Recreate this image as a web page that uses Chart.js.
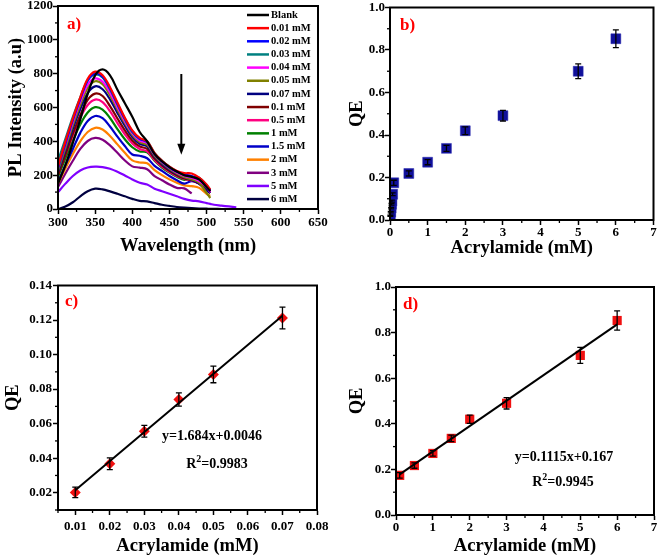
<!DOCTYPE html>
<html>
<head>
<meta charset="utf-8">
<script src="https://cdn.jsdelivr.net/npm/chart.js@4.4.0/dist/chart.umd.min.js"></script>
<style>
  body { margin: 0; background: #fff; width: 661px; height: 557px; position: relative; overflow: hidden; }
  .panel { position: absolute; }
</style>
</head>
<body>
<div class="panel" style="left:0;top:0"><canvas id="chartA" width="330" height="280"></canvas></div>
<div class="panel" style="left:330px;top:0"><canvas id="chartB" width="331" height="280"></canvas></div>
<div class="panel" style="left:0;top:280px"><canvas id="chartC" width="330" height="277"></canvas></div>
<div class="panel" style="left:330px;top:280px"><canvas id="chartD" width="331" height="277"></canvas></div>

<script>
// ---- panel a: PL spectra ----
const wavelength = [300, 310, 320, 330, 340, 350, 360, 370, 380, 390, 400, 410, 420, 430, 440, 450, 460, 470, 480, 490, 500, 505, 510, 520, 530, 540];
const concLabels = ["Blank", "0.01 mM", "0.02 mM", "0.03 mM", "0.04 mM", "0.05 mM", "0.07 mM", "0.1 mM", "0.5 mM", "1 mM", "1.5 mM", "2 mM", "3 mM", "5 mM", "6 mM"];
const lineColors = ["#000000", "#ff0000", "#0000ff", "#008080", "#ff00ff", "#808000", "#000080", "#800000", "#ff0080", "#008000", "#0000c8", "#ff8000", "#800080", "#8000ff", "#000040"];

const plBlank = [150, 260, 390, 530, 680, 790, 825, 790, 705, 625, 545, 455, 400, 325, 282, 248, 222, 200, 190, 175, 130, 105];
const pl001 = [250, 400, 535, 660, 770, 812, 790, 720, 630, 540, 465, 420, 400, 330, 285, 250, 225, 212, 210, 185, 145, 115];
const pl002 = [240, 385, 525, 650, 760, 802, 782, 712, 622, 535, 460, 415, 395, 325, 280, 245, 220, 205, 195, 175, 135, 110];
const pl003 = [285, 415, 545, 660, 760, 795, 778, 708, 618, 530, 455, 415, 400, 330, 285, 250, 222, 200, 190, 185, 140, 112];
const pl004 = [250, 380, 515, 635, 735, 772, 752, 688, 602, 518, 448, 405, 390, 322, 278, 243, 215, 195, 185, 165, 130, 100];
const pl005 = [230, 360, 495, 615, 715, 755, 738, 672, 588, 508, 438, 395, 380, 315, 272, 238, 210, 188, 175, 155, 95, 65];
const pl007 = [220, 345, 475, 590, 685, 725, 708, 648, 568, 492, 425, 385, 370, 308, 265, 232, 205, 185, 172, 150, 110, 95];
const pl01 = [200, 320, 445, 555, 645, 682, 668, 608, 535, 465, 405, 370, 355, 298, 258, 225, 200, 180, 170, 150, 110, 95];
const pl05 = [210, 320, 435, 540, 615, 647, 632, 578, 508, 442, 388, 355, 340, 290, 250, 220, 195, 178, 168, 150, 112, 98];
const pl1 = [190, 300, 405, 500, 570, 602, 588, 538, 472, 412, 365, 340, 335, 285, 245, 215, 190, 172, 185, 165, 120, 105];
const pl15 = [160, 260, 355, 450, 520, 550, 537, 488, 428, 372, 322, 315, 300, 255, 225, 195, 170, 150, 165, 150, 115, 100];
const pl2 = [150, 240, 325, 400, 455, 480, 470, 432, 382, 332, 287, 275, 270, 230, 200, 175, 155, 140, 135, 125, 90, 78];
const pl3 = [130, 210, 285, 355, 402, 420, 410, 376, 332, 287, 252, 245, 235, 195, 170, 145, 125, 122, 92];
const pl5 = [100, 150, 195, 228, 245, 250, 248, 238, 220, 198, 175, 155, 145, 120, 105, 90, 75, 60, 50, 45, 35, 30, 25, 20, 15, 10];
const pl6 = [0, 15, 40, 75, 105, 120, 116, 104, 90, 75, 60, 48, 45, 35, 25, 18, 12, 8, 5, 3, 2, 1, 1, 0];
const plSeries = [plBlank, pl001, pl002, pl003, pl004, pl005, pl007, pl01, pl05, pl1, pl15, pl2, pl3, pl5, pl6];

const ticksAx = [300, 350, 400, 450, 500, 550, 600, 650];
const ticksAy = [0, 200, 400, 600, 800, 1000, 1200];

// arrow in panel a (data units)
const arrowAt = 466, arrowFrom = 798, arrowTo = 320;

// ---- panels b, c, d: quenching efficiency ----
const conc = [0.01, 0.02, 0.03, 0.04, 0.05, 0.07, 0.1, 0.5, 1, 1.5, 2, 3, 5, 6];
const qe = [0.020, 0.037, 0.056, 0.074, 0.089, 0.121, 0.175, 0.219, 0.272, 0.337, 0.420, 0.491, 0.700, 0.853];
const qeErr = [0.003, 0.0034, 0.0034, 0.0038, 0.0048, 0.0063, 0.012, 0.012, 0.012, 0.014, 0.018, 0.025, 0.035, 0.042];

const lowConc = [0.01, 0.02, 0.03, 0.04, 0.05, 0.07];
const lowQE = [0.0202, 0.0368, 0.0556, 0.0740, 0.0885, 0.1212];
const lowErr = [0.0030, 0.0034, 0.0034, 0.0038, 0.0048, 0.0063];
const fitCx = [0.01, 0.07];
const fitCy = [0.0214, 0.1225];

const highConc = [0.1, 0.5, 1, 1.5, 2, 3, 5, 6];
const highQE = [0.174, 0.217, 0.270, 0.336, 0.420, 0.490, 0.700, 0.853];
const highErr = [0.012, 0.012, 0.012, 0.014, 0.018, 0.025, 0.035, 0.042];
const fitDx = [0.1, 6];
const fitDy = [0.178, 0.836];

const ticksBx = [0, 1, 2, 3, 4, 5, 6, 7];
const ticksBy = [0, 0.2, 0.4, 0.6, 0.8, 1.0];
const ticksCx = [0.01, 0.02, 0.03, 0.04, 0.05, 0.06, 0.07, 0.08];
const ticksCy = [0.02, 0.04, 0.06, 0.08, 0.10, 0.12, 0.14];

const FONT = '"Liberation Serif", "Times New Roman", serif';
Chart.defaults.font.family = FONT;
Chart.defaults.font.weight = "bold";
Chart.defaults.color = "#000";

const pts = (xs, ys) => ys.map((y, i) => ({ x: xs[i], y: y }));

// Axis with fixed box size so the plot areas line up with the figure
function axis(pos, min, max, ticks, fmt, title, size, titlePad, tickPad) {
  const horiz = pos === "bottom";
  return {
    type: "linear", position: pos, min: min, max: max,
    afterBuildTicks: s => { s.ticks = ticks.map(v => ({ value: v })); },
    afterFit: s => {
      if (horiz) { s.height = size; s.paddingLeft = 0; s.paddingRight = 0; }
      else { s.width = size; s.paddingTop = 0; s.paddingBottom = 0; }
    },
    grid: { drawOnChartArea: false, tickLength: 5, tickWidth: 1.5, tickColor: "#000" },
    border: { color: "#000", width: 2 },
    ticks: {
      color: "#000", padding: tickPad, autoSkip: false, maxRotation: 0,
      font: { family: FONT, size: 13, weight: "bold" },
      callback: v => fmt(v)
    },
    title: {
      display: true, text: title, color: "#000",
      font: { family: FONT, size: 18.5, weight: "bold" },
      padding: horiz ? { top: 0, bottom: titlePad } : { top: titlePad, bottom: 0 }
    }
  };
}

function minorTicks(ctx, scale, horiz, a) {
  const vals = scale.ticks.map(t => t.value);
  const step = vals[1] - vals[0];
  for (let v = vals[0] - step / 2; v <= scale.max + 1e-9; v += step) {
    if (v < scale.min - 1e-9) continue;
    const p = scale.getPixelForValue(v);
    ctx.beginPath();
    if (horiz) { ctx.moveTo(p, a.bottom); ctx.lineTo(p, a.bottom + 3); }
    else { ctx.moveTo(a.left, p); ctx.lineTo(a.left - 3, p); }
    ctx.stroke();
  }
}

// text like "R2=0.9983" with a raised 2
function drawR2(ctx, cx, cy, value) {
  const big = "bold 14px " + FONT, small = "bold 10px " + FONT;
  ctx.font = big; const wR = ctx.measureText("R").width; const wV = ctx.measureText("=" + value).width;
  ctx.font = small; const w2 = ctx.measureText("2").width;
  let x = cx - (wR + w2 + wV) / 2;
  ctx.textAlign = "left";
  ctx.font = big; ctx.fillText("R", x, cy); x += wR;
  ctx.font = small; ctx.fillText("2", x, cy - 5); x += w2;
  ctx.font = big; ctx.fillText("=" + value, x, cy);
}

function makeDecor(label, dx, dy, eq) {
  return {
    id: "decor",
    afterDatasetsDraw(chart) {
      const ctx = chart.ctx, xs = chart.scales.x, ys = chart.scales.y;
      ctx.save();
      ctx.strokeStyle = "#000"; ctx.lineWidth = 1.3;
      chart.data.datasets.forEach(ds => {
        if (!ds.errors) return;
        ds.data.forEach((p, j) => {
          const e = ds.errors[j];
          const px = xs.getPixelForValue(p.x);
          const y1 = ys.getPixelForValue(p.y + e), y2 = ys.getPixelForValue(p.y - e);
          ctx.beginPath();
          ctx.moveTo(px, y1); ctx.lineTo(px, y2);
          ctx.moveTo(px - 3, y1); ctx.lineTo(px + 3, y1);
          ctx.moveTo(px - 3, y2); ctx.lineTo(px + 3, y2);
          ctx.stroke();
        });
      });
      ctx.restore();
    },
    afterDraw(chart) {
      const ctx = chart.ctx, a = chart.chartArea;
      ctx.save();
      ctx.strokeStyle = "#000"; ctx.lineWidth = 2;
      ctx.strokeRect(a.left, a.top, a.right - a.left, a.bottom - a.top);
      ctx.lineWidth = 1.3;
      minorTicks(ctx, chart.scales.x, true, a);
      minorTicks(ctx, chart.scales.y, false, a);
      ctx.fillStyle = "#ff0000"; ctx.font = "bold 17px " + FONT;
      ctx.textAlign = "left"; ctx.textBaseline = "middle";
      ctx.fillText(label, a.left + dx, a.top + dy);
      if (eq) {
        ctx.fillStyle = "#000"; ctx.font = "bold 14px " + FONT; ctx.textAlign = "center";
        ctx.fillText(eq.text, eq.x, eq.y);
        drawR2(ctx, eq.rx, eq.ry, eq.r2);
      }
      ctx.restore();
    }
  };
}

const legendA = {
  id: "legendA",
  afterDraw(chart) {
    const ctx = chart.ctx;
    ctx.save();
    ctx.font = "bold 10.5px " + FONT; ctx.textAlign = "left"; ctx.textBaseline = "middle";
    chart.data.datasets.forEach((ds, i) => {
      const y = 15 + i * 13.15;
      ctx.strokeStyle = ds.borderColor; ctx.lineWidth = 2.5;
      ctx.beginPath(); ctx.moveTo(247, y); ctx.lineTo(269, y); ctx.stroke();
      ctx.fillStyle = "#000"; ctx.fillText(ds.label, 271, y);
    });
    ctx.restore();
  }
};

const arrowA = {
  id: "arrowA",
  afterDraw(chart) {
    const ctx = chart.ctx, xs = chart.scales.x, ys = chart.scales.y;
    const x = xs.getPixelForValue(arrowAt), y0 = ys.getPixelForValue(arrowFrom), y1 = ys.getPixelForValue(arrowTo);
    ctx.save();
    ctx.strokeStyle = "#000"; ctx.fillStyle = "#000"; ctx.lineWidth = 2;
    ctx.beginPath(); ctx.moveTo(x, y0); ctx.lineTo(x, y1 - 8); ctx.stroke();
    ctx.beginPath(); ctx.moveTo(x - 4, y1 - 11); ctx.lineTo(x + 4, y1 - 11); ctx.lineTo(x, y1); ctx.closePath(); ctx.fill();
    ctx.restore();
  }
};

const base = {
  responsive: false, animation: false, devicePixelRatio: 1,
  plugins: { legend: { display: false }, tooltip: { enabled: false } }
};

// a) spectra
new Chart(document.getElementById("chartA"), {
  type: "line",
  data: {
    datasets: plSeries.map((vals, i) => ({
      label: concLabels[i],
      data: vals.map((v, j) => ({ x: wavelength[j], y: v })),
      borderColor: lineColors[i], borderWidth: 2.2, pointRadius: 0, tension: 0.35, fill: false
    }))
  },
  options: Object.assign({}, base, {
    layout: { padding: { top: 6, right: 12, left: 0, bottom: 0 } },
    scales: {
      x: axis("bottom", 300, 650, ticksAx, v => String(v), "Wavelength (nm)", 71, 23, 1),
      y: axis("left", 0, 1200, ticksAy, v => String(v), "PL Intensity (a.u)", 58, 5, 0)
    }
  }),
  plugins: [makeDecor("a)", 9, 19, null), legendA, arrowA]
});

// b) QE vs concentration
new Chart(document.getElementById("chartB"), {
  type: "scatter",
  data: {
    datasets: [{
      data: pts(conc, qe), errors: qeErr,
      pointStyle: "rect", pointRadius: 7, backgroundColor: "#10109a", borderColor: "#2a2ab0", borderWidth: 0.5
    }]
  },
  options: Object.assign({}, base, {
    layout: { padding: { top: 7, right: 6, left: 0, bottom: 0 } },
    scales: {
      x: axis("bottom", 0, 7, ticksBx, v => String(v), "Acrylamide (mM)", 60, 21, 0),
      y: axis("left", 0, 1, ticksBy, v => v.toFixed(1), "QE", 60, 16, 0)
    }
  }),
  plugins: [makeDecor("b)", 10, 18, null)]
});

// c) low concentration with linear fit
new Chart(document.getElementById("chartC"), {
  type: "scatter",
  data: {
    datasets: [
      { type: "line", data: pts(fitCx, fitCy), borderColor: "#000", borderWidth: 2, pointRadius: 0 },
      { data: pts(lowConc, lowQE), errors: lowErr, pointStyle: "rectRot", pointRadius: 5.5, backgroundColor: "#f01010", borderWidth: 0 }
    ]
  },
  options: Object.assign({}, base, {
    layout: { padding: { top: 4, right: 13, left: 0, bottom: 0 } },
    scales: {
      x: axis("bottom", 0.005, 0.08, ticksCx, v => v.toFixed(2), "Acrylamide (mM)", 47, 0, 4),
      y: axis("left", 0.01, 0.14, ticksCy, v => v.toFixed(2), "QE", 58, 2, 1)
    }
  }),
  plugins: [makeDecor("c)", 7, 16, { text: "y=1.684x+0.0046", x: 212, y: 156, r2: "0.9983", rx: 217, ry: 184 })]
});

// d) full range with linear fit
new Chart(document.getElementById("chartD"), {
  type: "scatter",
  data: {
    datasets: [
      { type: "line", data: pts(fitDx, fitDy), borderColor: "#000", borderWidth: 2, pointRadius: 0 },
      { data: pts(highConc, highQE), errors: highErr, pointStyle: "rect", pointRadius: 6.5, backgroundColor: "#f01010", borderWidth: 0 }
    ]
  },
  options: Object.assign({}, base, {
    layout: { padding: { top: 7, right: 7, left: 0, bottom: 0 } },
    scales: {
      x: axis("bottom", 0, 7, ticksBx, v => String(v), "Acrylamide (mM)", 42, 0, 0),
      y: axis("left", 0, 1, ticksBy, v => v.toFixed(1), "QE", 66, 16, 0)
    }
  }),
  plugins: [makeDecor("d)", 7, 18, { text: "y=0.1115x+0.167", x: 234, y: 177, r2: "0.9945", rx: 233, ry: 202 })]
});
</script>
</body>
</html>
